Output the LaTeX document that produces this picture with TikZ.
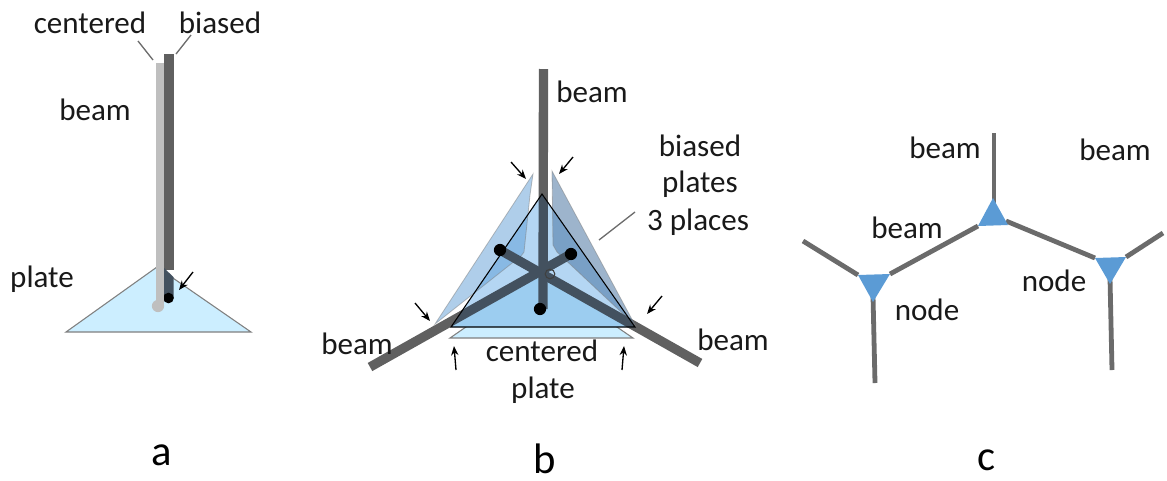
\documentclass[tikz,border=0pt]{standalone}
\usepackage{fontspec}
\setmainfont{Carlito}
\definecolor{beamc}{HTML}{606060}
\definecolor{beamin}{HTML}{43515F}
\definecolor{centerc}{HTML}{BFBFBF}
\definecolor{platec}{HTML}{CCEEFF}
\definecolor{nodec}{HTML}{5B9BD5}
\definecolor{edgec}{HTML}{6B6B6B}
\definecolor{mainc}{HTML}{B4D6F3}
\definecolor{lowc}{HTML}{9CCDF0}
\definecolor{greyb}{HTML}{44709D}
\usetikzlibrary{arrows.meta}
\tikzset{
 lab/.style={font=\fontsize{23.3pt}{26pt}\selectfont,text=black!90,inner sep=0pt,anchor=center},
 big/.style={font=\fontsize{32pt}{35pt}\selectfont,text=black,inner sep=0pt,anchor=center},
 leader/.style={draw=gray!85!black,line width=1pt},
 pointer/.style={draw=black,line width=1pt,-{Stealth[length=7pt,width=5.5pt]}},
 beambar/.style={draw=beamc,line width=7pt},
 beambarin/.style={draw=beamin,line width=7pt},
 plateshape/.style={fill=platec,draw=gray,line width=.8pt},
 blueplate/.style={fill=nodec,fill opacity=.49,draw=black!50,draw opacity=.5,line width=.6pt},
 greyplate/.style={fill=greyb,fill opacity=.52,draw=black!50,draw opacity=.5,line width=.6pt},
 tri/.style={fill=nodec},
 cedge/.style={draw=edgec,line width=3.6pt},
}
\begin{document}
\begin{tikzpicture}[x=.75pt,y=-.75pt]
\useasboundingbox (0,0) rectangle (1167,480);
% ---------- panel a
\coordinate (a1) at (66,332); \coordinate (a2) at (157,267); \coordinate (a3) at (251,332);
\draw[plateshape] (a1) -- (a2) -- (a3) -- cycle;
\fill[beamc] (164,54) rectangle (173.5,270);
\fill[beamin] (164,268) -- (173.5,277) -- (173.5,298) -- (164,298) -- cycle;
\fill[black] (168.5,298) circle (4pt);
\fill[centerc] (156,63) rectangle (164,305);
\fill[centerc] (158,306) circle (4.6pt);
\coordinate (a4) at (138,41); \coordinate (a5) at (153,60);
\coordinate (a6) at (191,35); \coordinate (a7) at (176,54);
\coordinate (a8) at (193,272); \coordinate (a9) at (179,290);
\draw[leader] (a4) -- (a5);
\draw[leader] (a6) -- (a7);
\draw[pointer] (a8) -- (a9);
\node[lab] (t1) at (90,23) {centered};
\node[lab] (t2) at (220,23) {biased};
\node[lab] (t3) at (95,110) {beam};
\node[lab] (t4) at (42,279) {plate};
\node[big] (t5) at (162,455) {a};
% ---------- panel b
\coordinate (c1) at (450,338); \coordinate (c2) at (633,338); \coordinate (c3) at (541,275);
\coordinate (m1) at (451,327); \coordinate (m2) at (542,194); \coordinate (m3) at (635,327);
\coordinate (bt) at (543.5,69); \coordinate (bb) at (543,309);
\coordinate (bl) at (370,367); \coordinate (br) at (700,363);
\coordinate (dl) at (500,250); \coordinate (dr) at (571,254);
% beams below the plates
\draw[beambar] (bt) -- (bb);
\draw[beambar] (bl) -- (dr);
\draw[beambar] (br) -- (dl);
\draw[plateshape] (c1) -- (c2) -- (c3) -- cycle;
\fill[mainc] (m1) -- (m2) -- (m3) -- cycle;
\fill[lowc] (m1) -- (c3) -- (m3) -- cycle;
\draw[blueplate] (435,324) -- (533,174) -- (530,195) -- (524,252) -- (521,256) -- cycle;
\draw[greyplate] (552,171) -- (635,325) -- (557,252) -- (553,245) -- cycle;
\begin{scope}
 \clip (m1) -- (m2) -- (m3) -- cycle;
 \draw[beambarin] (bt) -- (bb);
 \draw[beambarin] (bl) -- (dr);
 \draw[beambarin] (br) -- (dl);
\end{scope}
\draw[black,line width=.8pt] (m1) -- (m2) -- (m3) -- cycle;
\fill[black] (500,250) circle (4.6pt);
\fill[black] (571,254) circle (4.6pt);
\fill[black] (540,309) circle (4.6pt);
\draw[black!75,line width=.8pt] (550,274) circle (3.6pt);
\coordinate (p1) at (511,162); \coordinate (p2) at (526,179);
\coordinate (p3) at (573,157); \coordinate (p4) at (559,174);
\coordinate (p5) at (415,303); \coordinate (p6) at (430,321);
\coordinate (p7) at (662,296); \coordinate (p8) at (647,314);
\coordinate (p9) at (456,370); \coordinate (p10) at (454,346);
\coordinate (p11) at (622,370); \coordinate (p12) at (624,346);
\coordinate (l1) at (635,212); \coordinate (l2) at (599,240);
\draw[pointer] (p1) -- (p2);
\draw[pointer] (p3) -- (p4);
\draw[pointer] (p5) -- (p6);
\draw[pointer] (p7) -- (p8);
\draw[pointer] (p9) -- (p10);
\draw[pointer] (p11) -- (p12);
\draw[leader] (l1) -- (l2);
\node[lab] (t6) at (592,92) {beam};
\node[lab] (t7) at (700,146) {biased};
\node[lab] (t8) at (700,184) {plates};
\node[lab] (t9) at (698,222) {3 places};
\node[lab] (t10) at (357,344) {beam};
\node[lab] (t11) at (733,340) {beam};
\node[lab] (t12) at (542,351) {centered};
\node[lab] (t13) at (543,390) {plate};
\node[big] (t14) at (545,459) {b};
% ---------- panel c
\coordinate (n1a) at (978,226); \coordinate (n1b) at (993,198); \coordinate (n1c) at (1008,225);
\coordinate (n2a) at (858,275); \coordinate (n2b) at (890,274); \coordinate (n2c) at (873,302);
\coordinate (n3a) at (1095,258); \coordinate (n3b) at (1126,257); \coordinate (n3c) at (1110,284);
\coordinate (e1) at (994,133); \coordinate (e2) at (803,241); \coordinate (e3) at (875,383);
\coordinate (e4) at (1163,233); \coordinate (e5) at (1112,370);
\draw[cedge] (e1) -- (994,206);
\draw[cedge] (n2b) -- (n1a);
\draw[cedge] (1006,221) -- (n3a);
\draw[cedge] (e2) -- (n2a);
\draw[cedge] (e4) -- (n3b);
\draw[cedge] (873,296) -- (e3);
\draw[cedge] (1110,278) -- (e5);
\fill[tri] (n1a) -- (n1b) -- (n1c) -- cycle;
\fill[tri] (n2a) -- (n2b) -- (n2c) -- cycle;
\fill[tri] (n3a) -- (n3b) -- (n3c) -- cycle;
\node[lab] (t15) at (945,148) {beam};
\node[lab] (t16) at (1115,150) {beam};
\node[lab] (t17) at (907,228) {beam};
\node[lab] (t18) at (927,310) {node};
\node[lab] (t19) at (1054,281) {node};
\node[big] (t20) at (987,460) {c};
\end{tikzpicture}
\end{document}
